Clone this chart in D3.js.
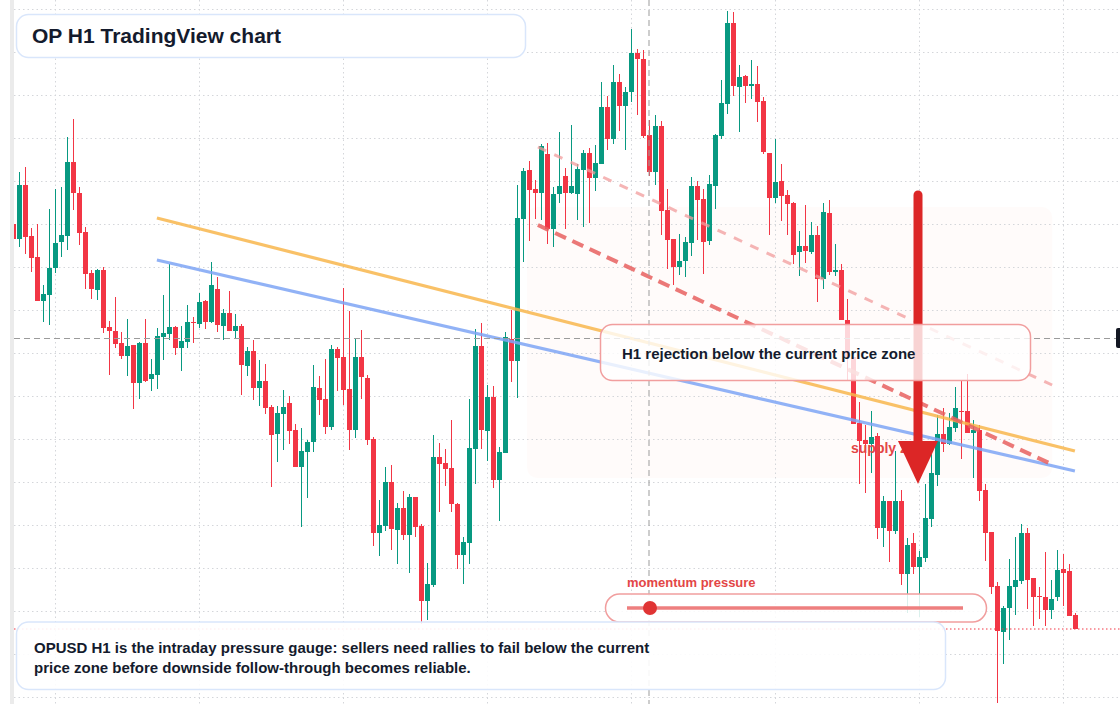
<!DOCTYPE html>
<html>
<head>
<meta charset="utf-8">
<script src="https://cdn.jsdelivr.net/npm/d3@7"></script>
<style>
  html, body { margin: 0; padding: 0; background: #fff; }
  svg { display: block; font-family: "Liberation Sans", Arial, sans-serif; }
</style>
</head>
<body>
<div id="chart"></div>
<script>
const WIDTH = 1120, HEIGHT = 704;
const PLOT_LEFT = 14;

// OPUSD hourly bars, oldest first.
const opens = [0.776,0.761,0.815,0.764,0.743,0.699,0.705,0.732,0.758,0.764,0.838,0.807,0.768,0.727,0.710,0.730,0.673,0.669,0.657,0.644,
  0.655,0.617,0.657,0.621,0.625,0.663,0.666,0.673,0.652,0.658,0.678,0.676,0.699,0.678,0.711,0.674,0.687,0.669,0.674,0.634,
  0.649,0.612,0.619,0.593,0.566,0.586,0.597,0.570,0.533,0.548,0.558,0.612,0.601,0.573,0.651,0.643,0.611,0.570,0.643,0.622,
  0.561,0.467,0.474,0.518,0.470,0.492,0.465,0.503,0.474,0.399,0.415,0.543,0.537,0.532,0.496,0.445,0.457,0.551,0.654,0.569,
  0.603,0.520,0.547,0.661,0.639,0.781,0.830,0.811,0.807,0.846,0.771,0.806,0.824,0.807,0.806,0.830,0.847,0.822,0.836,0.893,
  0.861,0.918,0.894,0.908,0.947,0.941,0.865,0.828,0.874,0.790,0.761,0.733,0.739,0.757,0.814,0.801,0.759,0.814,0.864,0.896,
  0.977,0.913,0.924,0.914,0.916,0.899,0.847,0.802,0.819,0.805,0.797,0.748,0.754,0.748,0.765,0.721,0.787,0.728,0.730,0.680,
  0.643,0.577,0.560,0.556,0.564,0.472,0.499,0.469,0.499,0.426,0.457,0.433,0.442,0.481,0.525,0.566,0.556,0.572,0.589,0.589,
  0.567,0.570,0.510,0.468,0.414,0.368,0.392,0.413,0.419,0.467,0.422,0.404,0.403,0.390,0.403,0.431,0.429,0.385];
const highs = [0.778,0.828,0.833,0.772,0.776,0.715,0.791,0.811,0.813,0.863,0.881,0.813,0.773,0.730,0.731,0.733,0.679,0.703,0.668,0.681,
  0.655,0.658,0.681,0.641,0.672,0.705,0.736,0.674,0.674,0.695,0.683,0.707,0.700,0.738,0.723,0.691,0.709,0.686,0.676,0.653,
  0.660,0.640,0.636,0.595,0.594,0.610,0.604,0.576,0.572,0.560,0.635,0.624,0.641,0.655,0.653,0.712,0.689,0.661,0.670,0.625,
  0.563,0.500,0.533,0.535,0.497,0.509,0.506,0.503,0.476,0.437,0.565,0.557,0.551,0.580,0.497,0.463,0.601,0.671,0.677,0.615,
  0.614,0.553,0.668,0.690,0.815,0.832,0.839,0.820,0.856,0.857,0.813,0.868,0.832,0.875,0.836,0.850,0.852,0.855,0.918,0.904,
  0.935,0.926,0.913,0.971,0.951,0.950,0.880,0.885,0.879,0.811,0.761,0.766,0.763,0.823,0.819,0.811,0.825,0.866,0.920,0.989,
  0.988,0.935,0.925,0.940,0.934,0.903,0.847,0.861,0.836,0.810,0.798,0.769,0.795,0.778,0.774,0.797,0.800,0.756,0.736,0.701,
  0.643,0.598,0.575,0.589,0.567,0.504,0.499,0.549,0.510,0.462,0.467,0.449,0.516,0.549,0.585,0.592,0.587,0.613,0.620,0.626,
  0.580,0.575,0.516,0.468,0.418,0.394,0.441,0.463,0.476,0.472,0.422,0.413,0.448,0.420,0.450,0.446,0.436,0.387];
const lows = [0.760,0.753,0.746,0.728,0.699,0.678,0.675,0.727,0.743,0.750,0.790,0.755,0.711,0.701,0.700,0.667,0.625,0.652,0.641,0.624,
  0.591,0.601,0.618,0.609,0.611,0.640,0.660,0.645,0.629,0.652,0.657,0.672,0.671,0.677,0.668,0.660,0.669,0.661,0.605,0.624,
  0.600,0.594,0.586,0.513,0.538,0.550,0.556,0.533,0.473,0.502,0.548,0.585,0.566,0.570,0.609,0.595,0.550,0.562,0.601,0.555,
  0.454,0.444,0.469,0.450,0.436,0.460,0.427,0.463,0.376,0.380,0.413,0.488,0.514,0.488,0.431,0.416,0.436,0.516,0.551,0.539,
  0.512,0.479,0.547,0.618,0.602,0.738,0.759,0.781,0.780,0.756,0.753,0.797,0.771,0.806,0.780,0.773,0.777,0.809,0.836,0.850,
  0.856,0.869,0.850,0.898,0.885,0.862,0.824,0.815,0.765,0.731,0.715,0.725,0.723,0.744,0.760,0.726,0.755,0.791,0.861,0.886,
  0.904,0.868,0.897,0.901,0.878,0.846,0.765,0.797,0.779,0.765,0.736,0.724,0.737,0.746,0.698,0.711,0.725,0.724,0.680,0.620,
  0.576,0.516,0.507,0.527,0.461,0.453,0.438,0.466,0.415,0.387,0.426,0.383,0.438,0.473,0.514,0.548,0.555,0.568,0.541,0.567,
  0.522,0.499,0.439,0.406,0.297,0.336,0.360,0.385,0.416,0.391,0.374,0.381,0.374,0.381,0.399,0.394,0.384,0.371];
const closes = [0.761,0.815,0.763,0.742,0.699,0.706,0.732,0.757,0.765,0.838,0.807,0.767,0.726,0.711,0.730,0.672,0.669,0.656,0.644,0.654,
  0.617,0.657,0.619,0.626,0.664,0.667,0.673,0.652,0.659,0.678,0.677,0.698,0.678,0.715,0.675,0.687,0.669,0.674,0.635,0.649,
  0.612,0.619,0.592,0.565,0.587,0.593,0.569,0.533,0.549,0.558,0.613,0.600,0.573,0.651,0.642,0.610,0.570,0.643,0.623,0.560,
  0.467,0.475,0.518,0.471,0.492,0.465,0.503,0.473,0.399,0.416,0.543,0.536,0.531,0.496,0.445,0.458,0.552,0.654,0.570,0.603,
  0.520,0.548,0.663,0.639,0.782,0.829,0.810,0.807,0.854,0.771,0.806,0.814,0.807,0.814,0.831,0.847,0.822,0.837,0.893,0.861,
  0.918,0.894,0.908,0.947,0.941,0.864,0.828,0.874,0.789,0.760,0.733,0.739,0.758,0.814,0.800,0.758,0.816,0.865,0.897,0.977,
  0.914,0.923,0.914,0.916,0.898,0.848,0.802,0.818,0.804,0.796,0.745,0.754,0.749,0.765,0.721,0.788,0.728,0.730,0.680,0.643,
  0.576,0.559,0.556,0.563,0.472,0.499,0.469,0.499,0.426,0.455,0.433,0.443,0.482,0.527,0.566,0.556,0.573,0.592,0.588,0.567,
  0.570,0.509,0.467,0.413,0.369,0.392,0.414,0.420,0.467,0.420,0.403,0.403,0.390,0.401,0.430,0.427,0.384,0.371];

// Grid positions: price levels and bar indexes.
const gridPrices = [0.9905,0.9475,0.9045,0.8615,0.8185,0.7755,0.7325,0.6895,0.6465,0.6035,0.5605,0.5175,0.4745,0.4315,0.3885,0.3455,0.3025];
const gridBars = [7, 31, 55, 79, 103, 127, 151, 175];

// Crosshair sits on bar 106 at 0.662.
const crosshair = { bar: 106, price: 0.662 };

// Drawn trend lines: [bar, price] end points.
const orangeTrend = [[23.9, 0.782], [176.9, 0.549]];
const blueTrend = [[23.9, 0.740], [176.9, 0.529]];
const channelLower = [[87.4, 0.775], [173.3, 0.535]];
const channelUpper = [[87.4, 0.853], [173.1, 0.615]];
const zoneBox = { from: 85.6, to: 173.1, top: 0.793, bottom: 0.522 };
const arrow = { bar: 150.75, from: 0.805, to: 0.516 };

const bars = opens.map((o, i) => ({ i, o, h: highs[i], l: lows[i], c: closes[i] }));

const svg = d3.select("#chart")
  .append("svg")
  .attr("width", WIDTH)
  .attr("height", HEIGHT);

const x = d3.scaleLinear().domain([0, 177]).range([13.5, 1075.5]);
const y = d3.scaleLinear().domain([0.296, 1.0]).range([HEIGHT, 0]);

svg.append("rect").attr("width", WIDTH).attr("height", HEIGHT).attr("fill", "#fff");
svg.append("rect").attr("x", 10).attr("width", 4).attr("height", HEIGHT).attr("fill", "#ebebeb");

svg.append("clipPath").attr("id", "plot-clip")
  .append("rect").attr("x", PLOT_LEFT).attr("width", WIDTH - PLOT_LEFT).attr("height", HEIGHT);

const plot = svg.append("g").attr("clip-path", "url(#plot-clip)");

// Faint highlight behind the rejection area.
plot.append("rect")
  .attr("x", x(zoneBox.from)).attr("y", y(zoneBox.top))
  .attr("width", x(zoneBox.to) - x(zoneBox.from))
  .attr("height", y(zoneBox.bottom) - y(zoneBox.top))
  .attr("rx", 10)
  .attr("fill", "#f3a47c").attr("fill-opacity", 0.04);

// Dotted grid
plot.selectAll(".hgrid").data(gridPrices).join("line")
  .attr("x1", PLOT_LEFT).attr("x2", WIDTH)
  .attr("y1", d => y(d)).attr("y2", d => y(d))
  .attr("stroke", "#d4d6da").attr("stroke-dasharray", "1.5,3");

plot.selectAll(".vgrid").data(gridBars).join("line")
  .attr("x1", d => x(d)).attr("x2", d => x(d))
  .attr("y1", 0).attr("y2", HEIGHT)
  .attr("stroke", "#d4d6da").attr("stroke-dasharray", "1.5,3");

// Candles
const colorOf = d => d.c >= d.o ? "#089981" : "#f23645";

plot.selectAll(".wick").data(bars).join("line")
  .attr("x1", d => x(d.i)).attr("x2", d => x(d.i))
  .attr("y1", d => y(d.h)).attr("y2", d => y(d.l))
  .attr("stroke", colorOf).attr("stroke-width", 1);

plot.selectAll(".body").data(bars).join("rect")
  .attr("x", d => x(d.i) - 2.5)
  .attr("width", 5)
  .attr("y", d => y(Math.max(d.o, d.c)))
  .attr("height", d => Math.max(1, Math.abs(y(d.o) - y(d.c))))
  .attr("fill", colorOf);

// Trend lines
const line = d3.line().x(d => x(d[0])).y(d => y(d[1]));

plot.append("path").attr("d", line(orangeTrend))
  .attr("stroke", "#f8b64c").attr("stroke-opacity", 0.85).attr("stroke-width", 3.2).attr("fill", "none");
plot.append("path").attr("d", line(blueTrend))
  .attr("stroke", "#7ea4f4").attr("stroke-opacity", 0.85).attr("stroke-width", 3.2).attr("fill", "none");
plot.append("path").attr("d", line(channelUpper))
  .attr("stroke", "#f29c9c").attr("stroke-opacity", 0.75).attr("stroke-width", 3)
  .attr("stroke-dasharray", "9,9").attr("fill", "none");
plot.append("path").attr("d", line(channelLower))
  .attr("stroke", "#e8605f").attr("stroke-opacity", 0.85).attr("stroke-width", 4)
  .attr("stroke-dasharray", "12,7").attr("fill", "none");

// Crosshair and last price line
plot.append("line")
  .attr("x1", PLOT_LEFT).attr("x2", WIDTH)
  .attr("y1", Math.round(y(crosshair.price)) + 0.5).attr("y2", Math.round(y(crosshair.price)) + 0.5)
  .attr("stroke", "#9b9b9b").attr("stroke-dasharray", "6,4");
plot.append("line")
  .attr("x1", x(crosshair.bar) - 0.5).attr("x2", x(crosshair.bar) - 0.5)
  .attr("y1", 0).attr("y2", HEIGHT)
  .attr("stroke", "#9b9b9b").attr("stroke-dasharray", "6,4");
svg.append("rect")
  .attr("x", 1116).attr("y", y(crosshair.price) - 10)
  .attr("width", 10).attr("height", 20).attr("rx", 2)
  .attr("fill", "#131722");

const lastClose = closes[closes.length - 1];
plot.append("line")
  .attr("x1", PLOT_LEFT).attr("x2", WIDTH)
  .attr("y1", y(lastClose)).attr("y2", y(lastClose))
  .attr("stroke", "#f23645").attr("stroke-dasharray", "1.5,2.5");

// Supply label, then the arrow painted over it
plot.append("text")
  .attr("x", 851).attr("y", 453)
  .attr("fill", "#e34646").attr("font-size", 14).attr("font-weight", 700)
  .text("supply zone");

const ax = x(arrow.bar);
plot.append("line")
  .attr("x1", ax).attr("x2", ax)
  .attr("y1", y(arrow.from)).attr("y2", y(arrow.to) - 40)
  .attr("stroke", "#dc2626").attr("stroke-width", 9).attr("stroke-linecap", "round");
plot.append("path")
  .attr("d", `M${ax - 20},${y(arrow.to) - 43} L${ax + 20},${y(arrow.to) - 43} L${ax},${y(arrow.to)} Z`)
  .attr("fill", "#dc2626");

// Text panels
const panel = (x0, y0, w, h, stroke, opacity) => svg.append("rect")
  .attr("x", x0).attr("y", y0).attr("width", w).attr("height", h).attr("rx", 12)
  .attr("fill", "#fff").attr("fill-opacity", opacity)
  .attr("stroke", stroke).attr("stroke-width", 1.5);

panel(16.5, 14.5, 509, 43, "#d9e6fb", 1);
svg.append("text")
  .attr("x", 32).attr("y", 43)
  .attr("fill", "#141b2d").attr("font-size", 21).attr("font-weight", 700)
  .text("OP H1 TradingView chart");

panel(600.5, 324.5, 430, 56, "#f19e9e", 0.8);
svg.append("text")
  .attr("x", 622).attr("y", 359)
  .attr("fill", "#141b2d").attr("font-size", 15).attr("font-weight", 700)
  .text("H1 rejection below the current price zone");

// Momentum gauge
svg.append("text")
  .attr("x", 627).attr("y", 587)
  .attr("fill", "#e34646").attr("font-size", 13).attr("font-weight", 700)
  .text("momentum pressure");
svg.append("rect")
  .attr("x", 605.5).attr("y", 594).attr("width", 381).attr("height", 28).attr("rx", 14)
  .attr("fill", "#fff").attr("fill-opacity", 0.85)
  .attr("stroke", "#f19e9e").attr("stroke-width", 1.5);
svg.append("line")
  .attr("x1", 627).attr("x2", 963).attr("y1", 608).attr("y2", 608)
  .attr("stroke", "#ee7f7f").attr("stroke-width", 3.5);
svg.append("circle")
  .attr("cx", 650).attr("cy", 608).attr("r", 7)
  .attr("fill", "#e03434");

panel(16.5, 622, 929, 67.5, "#d9e6fb", 0.9);
svg.append("text")
  .attr("x", 34).attr("y", 653)
  .attr("fill", "#141b2d").attr("font-size", 15).attr("font-weight", 700)
  .text("OPUSD H1 is the intraday pressure gauge: sellers need rallies to fail below the current");
svg.append("text")
  .attr("x", 34).attr("y", 673)
  .attr("fill", "#141b2d").attr("font-size", 15).attr("font-weight", 700)
  .text("price zone before downside follow-through becomes reliable.");
</script>
</body>
</html>
